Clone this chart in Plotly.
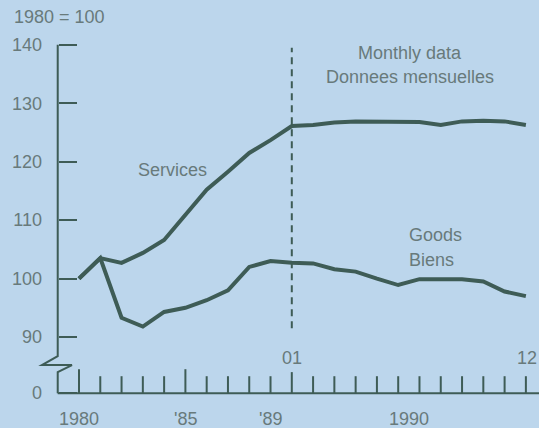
import plotly.graph_objects as go

# ---- data ----
x_idx = list(range(22))  # 1980..1989 annual, then 1990 months 01..12
services = [100, 103.5, 102.7, 104.4, 106.6, 110.9, 115.2, 118.3, 121.5, 123.7,
            126.1, 126.3, 126.7, 126.9, 126.9, 126.9, 126.8, 126.3, 126.9, 127.0, 126.9, 126.3]
goods = [100, 103.5, 93.3, 91.8, 94.3, 95.0, 96.3, 98.0, 102.0, 103.0,
         102.7, 102.6, 101.6, 101.2, 100.0, 98.9, 99.9, 99.9, 99.9, 99.5, 97.8, 97.0]

y_tick_vals = [80.4, 90, 100, 110, 120, 130, 140]
y_tick_text = ["0", "90", "100", "110", "120", "130", "140"]
x_label_pos = [0, 5, 9, 15.5]
x_label_text = ["1980", "'85", "'89", "1990"]
tall_ticks = {0: 4.1, 5: 4.1, 10: 3.6}

BG = "#bcd6ec"
LINE = "#3e5c56"
TXT = "#687a7b"
FONT = "Liberation Sans"

fig = go.Figure()
fig.add_trace(go.Scatter(x=x_idx, y=services, mode="lines",
                         line=dict(color=LINE, width=4), showlegend=False))
fig.add_trace(go.Scatter(x=x_idx, y=goods, mode="lines",
                         line=dict(color=LINE, width=4), showlegend=False))

shapes = []
base = 80.4
# baseline
shapes.append(dict(type="line", xref="x", yref="y", x0=-1, x1=21.7, y0=base, y1=base,
                   line=dict(color=LINE, width=2)))
# y axis with break
shapes.append(dict(type="path", xref="x", yref="y",
                   path=f"M -1 140 L -1 86.75 L -1.74 85.2 L -0.33 85.2 L -1 84.0 L -1 {base}",
                   line=dict(color=LINE, width=2)))
# x ticks
for i in x_idx:
    h = tall_ticks.get(i, 2.9)
    shapes.append(dict(type="line", xref="x", yref="y", x0=i, x1=i, y0=base, y1=base + h,
                       line=dict(color=LINE, width=2)))
# dashed divider
shapes.append(dict(type="line", xref="x", yref="y", x0=10, x1=10, y0=91.5, y1=139.5,
                   line=dict(color=LINE, width=2, dash="7px,5px")))
fig.update_layout(shapes=shapes)

W, H = 539, 428
ML, MR, MT, MB = 0, 0, 39, 29

ann = []
def txt(x, y, s, xanchor="center", xref="x", yref="y", **kw):
    ann.append(dict(x=x, y=y, text=s, xref=xref, yref=yref, showarrow=False,
                    xanchor=xanchor, yanchor="middle",
                    font=dict(family=FONT, size=18, color=TXT), **kw))

for p, t in zip(x_label_pos, x_label_text):
    txt(p, 0, t, yref="paper", yshift=-20)
txt(10, 86.5, "01")
txt(21.05, 86.5, "12")
txt(4.4, 118.6, "Services")
txt(15.55, 138.6, "Monthly data")
txt(15.55, 134.5, "Donnees mensuelles")
txt(15.4, 107.5, "Goods", xanchor="left")
txt(15.4, 103.2, "Biens", xanchor="left")
txt(12 / W, 1 + (MT - 17) / (H - MT - MB), "1980 = 100", xanchor="left",
    xref="paper", yref="paper")
fig.update_layout(annotations=ann)

fig.update_layout(
    width=W, height=H,
    margin=dict(l=ML, r=MR, t=MT, b=MB),
    paper_bgcolor=BG, plot_bgcolor=BG,
    xaxis=dict(range=[-79 / 21.28, 460 / 21.28], showgrid=False, zeroline=False,
               showline=False, showticklabels=False, ticks=""),
    yaxis=dict(range=[79.4, 141], showgrid=False, zeroline=False, showline=False,
               anchor="free", position=58 / W,
               tickmode="array", tickvals=y_tick_vals, ticktext=y_tick_text,
               ticks="inside", ticklen=18, tickwidth=2, tickcolor=LINE,
               ticklabelstandoff=16,
               tickfont=dict(family=FONT, size=18, color=TXT)),
)
fig.write_html("out.html", config={"displayModeBar": False},
               post_script="document.body.style.margin='0';document.body.style.overflow='hidden';")
